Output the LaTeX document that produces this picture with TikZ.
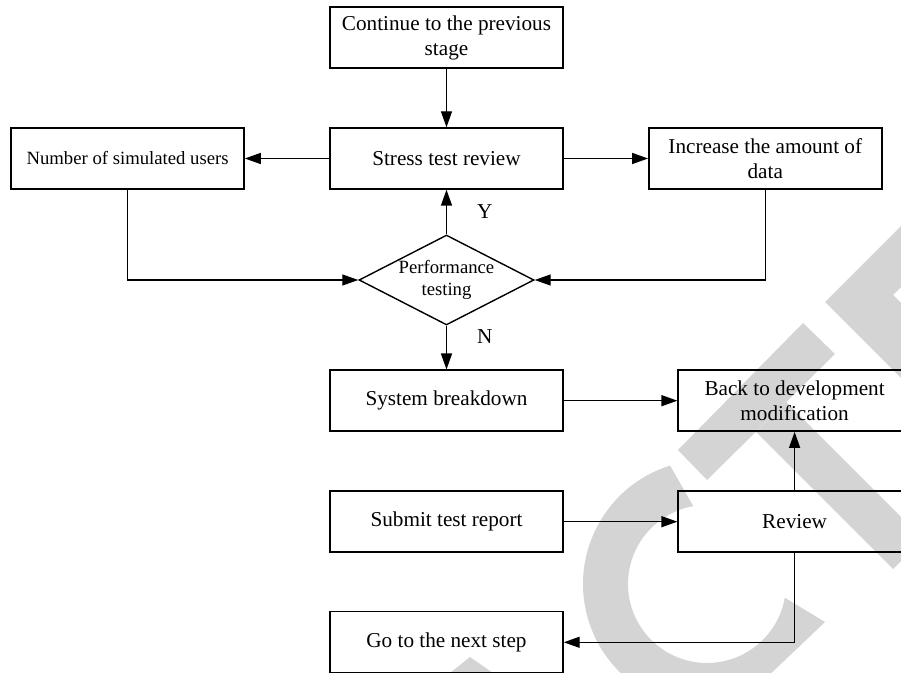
\documentclass[tikz,border=0pt]{standalone}
\usepackage{fontspec}
\setmainfont{Liberation Serif}
\usepackage{tikz}
\usetikzlibrary{arrows.meta}
\usetikzlibrary{shapes.geometric}
\usepackage{xcolor}

\tikzset{
	box/.style={draw, line width=.7pt, minimum width=116.5pt, minimum height=30.5pt,
		inner sep=0pt, align=center, font=\fontsize{10.6}{12.5}\selectfont},
	small/.style={font=\fontsize{9.35}{11}\selectfont},
	decision/.style={draw, diamond, line width=.7pt, aspect=1.94, inner sep=0pt,
		minimum width=87.5pt, minimum height=45pt, align=center, small},
	arr/.style={line width=.7pt, -{Triangle[length=8pt,width=5.5pt]}},
	lbl/.style={font=\fontsize{10.6}{12.5}\selectfont, inner sep=0pt},
	wmark/.style={fill=black!17},
}

\begin{document}
\begin{tikzpicture}[x=.5pt, y=-.5pt]
	  \useasboundingbox (0,0) rectangle (901,673);
	  \clip (0,0) rectangle (901,673);
	  % grey letters behind the chart
	  \fill[wmark] (707,584) ++(252.7:124) arc[start angle=252.7, end angle=75, radius=124]
	    -- (825,622) -- (784.8,597.7) arc[start angle=10, end angle=260, radius=79] -- cycle;
	  \fill[wmark] (678,450) -- (803,323) -- (835,354) -- (707,480) -- cycle;
	  \fill[wmark] (756,432) -- (786,402) -- (923,539) -- (893,569) -- cycle;
	  \fill[wmark] (825,302) -- (901,226) -- (901,287) -- (893,295) -- (901,303) -- (901,378) -- cycle;
	  \fill[wmark] (450,673) -- (470,657) -- (493,673) -- cycle;

	  \node[box] (prev) at (446.5,37.5) {Continue to the previous\\stage};
	  \node[box] (stress) at (446.5,158.5) {Stress test review};
	  \node[box, small] (users) at (127.6,158.5) {Number of simulated users};
	  \node[box] (data) at (765.3,158.5) {Increase the amount of\\data};
	  \node[decision] (perf) at (446.5,280) {Performance\\testing};
	  \node[box] (crash) at (446.5,400.7) {System breakdown};
	  \node[box] (back) at (794.6,400.7) {Back to development\\modification};
	  \node[box] (submit) at (446.5,521.7) {Submit test report};
	  \node[box] (review) at (794.6,521.7) {Review};
	  \node[box] (next) at (446.5,642.3) {Go to the next step};

	  \foreach \a/\b in {prev/stress, stress/users, stress/data, crash/back, submit/review, review/back}
	    \draw[arr] (\a) -- (\b);
	  \foreach \s in {users, data}
	    \draw[arr] (\s) |- (perf);
	  \draw[arr] (perf) -- node[lbl, right=15pt] (yes) {Y} (stress);
	  \draw[arr] (perf) -- node[lbl, pos=.25, right=15pt] (no) {N} (crash);
	  \draw[arr] (review) |- (next);
	\end{tikzpicture}
\end{document}
